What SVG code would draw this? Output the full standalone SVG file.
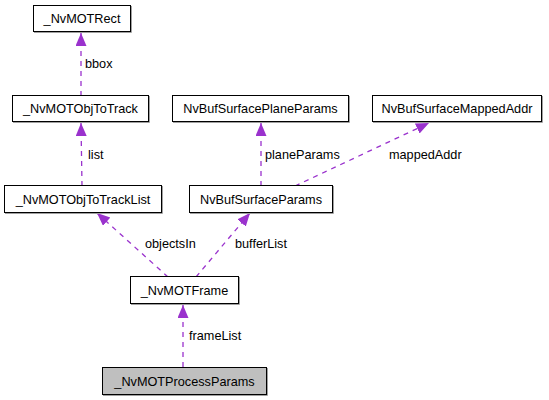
<svg xmlns="http://www.w3.org/2000/svg" width="549" height="400" viewBox="0 0 549 400">
<defs>
<style>
.box{fill:#ffffff;stroke:#000000;stroke-width:1}
.sel{fill:#bfbfbf}
.sh{fill:none;stroke:#a0a0a0;stroke-width:1}
.lbl{font-family:"Liberation Sans",Arial,sans-serif;font-size:12.7px;fill:#000000}
.nt{text-anchor:middle}
.edge{stroke:#9a32cd;stroke-width:1.3;stroke-dasharray:5,5;fill:none}
</style>
<marker id="ah" markerUnits="userSpaceOnUse" markerWidth="14" markerHeight="12" refX="13" refY="5.5" orient="auto">
<path d="M0,0 L13,5.5 L0,11 z" fill="#9a32cd"/>
</marker>
</defs>
<rect width="549" height="400" fill="#ffffff"/>
<g id="connectors">
<line class="edge" x1="81" y1="96" x2="81" y2="33" marker-end="url(#ah)"/>
<line class="edge" x1="82" y1="186" x2="81" y2="123" marker-end="url(#ah)"/>
<line class="edge" x1="261" y1="186" x2="261" y2="123" marker-end="url(#ah)"/>
<line class="edge" x1="295" y1="186" x2="429" y2="123" marker-end="url(#ah)"/>
<line class="edge" x1="168" y1="277" x2="97" y2="213" marker-end="url(#ah)"/>
<line class="edge" x1="196" y1="277" x2="250" y2="213" marker-end="url(#ah)"/>
<line class="edge" x1="183" y1="367" x2="183" y2="305" marker-end="url(#ah)"/>
<text class="lbl" x="85" y="68">bbox</text>
<text class="lbl" x="88" y="159">list</text>
<text class="lbl" x="265" y="159">planeParams</text>
<text class="lbl" x="389" y="159">mappedAddr</text>
<text class="lbl" x="145" y="248">objectsIn</text>
<text class="lbl" x="235" y="248">bufferList</text>
<text class="lbl" x="189" y="340">frameList</text>
</g>
<g id="node-NvMOTRect">
<polyline class="sh" points="131.5,6 131.5,32.5 34,32.5"/>
<rect class="box" x="33.5" y="5.5" width="97" height="26"/>
<text class="lbl nt" x="82" y="23">_NvMOTRect</text>
</g>
<g id="node-NvMOTObjToTrack">
<polyline class="sh" points="149.5,96 149.5,122.5 13,122.5"/>
<rect class="box" x="12.5" y="95.5" width="136" height="26"/>
<text class="lbl nt" x="80.5" y="113">_NvMOTObjToTrack</text>
</g>
<g id="node-NvMOTObjToTrackList">
<polyline class="sh" points="162.5,186 162.5,213.5 5,213.5"/>
<rect class="box" x="4.5" y="185.5" width="157" height="27"/>
<text class="lbl nt" x="83" y="203.5">_NvMOTObjToTrackList</text>
</g>
<g id="node-NvBufSurfacePlaneParams">
<polyline class="sh" points="349.5,96 349.5,122.5 173,122.5"/>
<rect class="box" x="172.5" y="95.5" width="176" height="26"/>
<text class="lbl nt" x="260.5" y="113">NvBufSurfacePlaneParams</text>
</g>
<g id="node-NvBufSurfaceMappedAddr">
<polyline class="sh" points="542.5,96 542.5,122.5 373,122.5"/>
<rect class="box" x="372.5" y="95.5" width="169" height="26"/>
<text class="lbl nt" x="457" y="113">NvBufSurfaceMappedAddr</text>
</g>
<g id="node-NvBufSurfaceParams">
<polyline class="sh" points="333.5,186 333.5,213.5 190,213.5"/>
<rect class="box" x="189.5" y="185.5" width="143" height="27"/>
<text class="lbl nt" x="261" y="203.5">NvBufSurfaceParams</text>
</g>
<g id="node-NvMOTFrame">
<polyline class="sh" points="239.5,277 239.5,304.5 131,304.5"/>
<rect class="box" x="130.5" y="276.5" width="108" height="27"/>
<text class="lbl nt" x="184.5" y="294.5">_NvMOTFrame</text>
</g>
<g id="node-NvMOTProcessParams">
<polyline class="sh" points="267.5,368 267.5,395.5 103,395.5"/>
<rect class="box sel" x="102.5" y="367.5" width="164" height="27"/>
<text class="lbl nt" x="184.5" y="385.5">_NvMOTProcessParams</text>
</g>
</svg>
